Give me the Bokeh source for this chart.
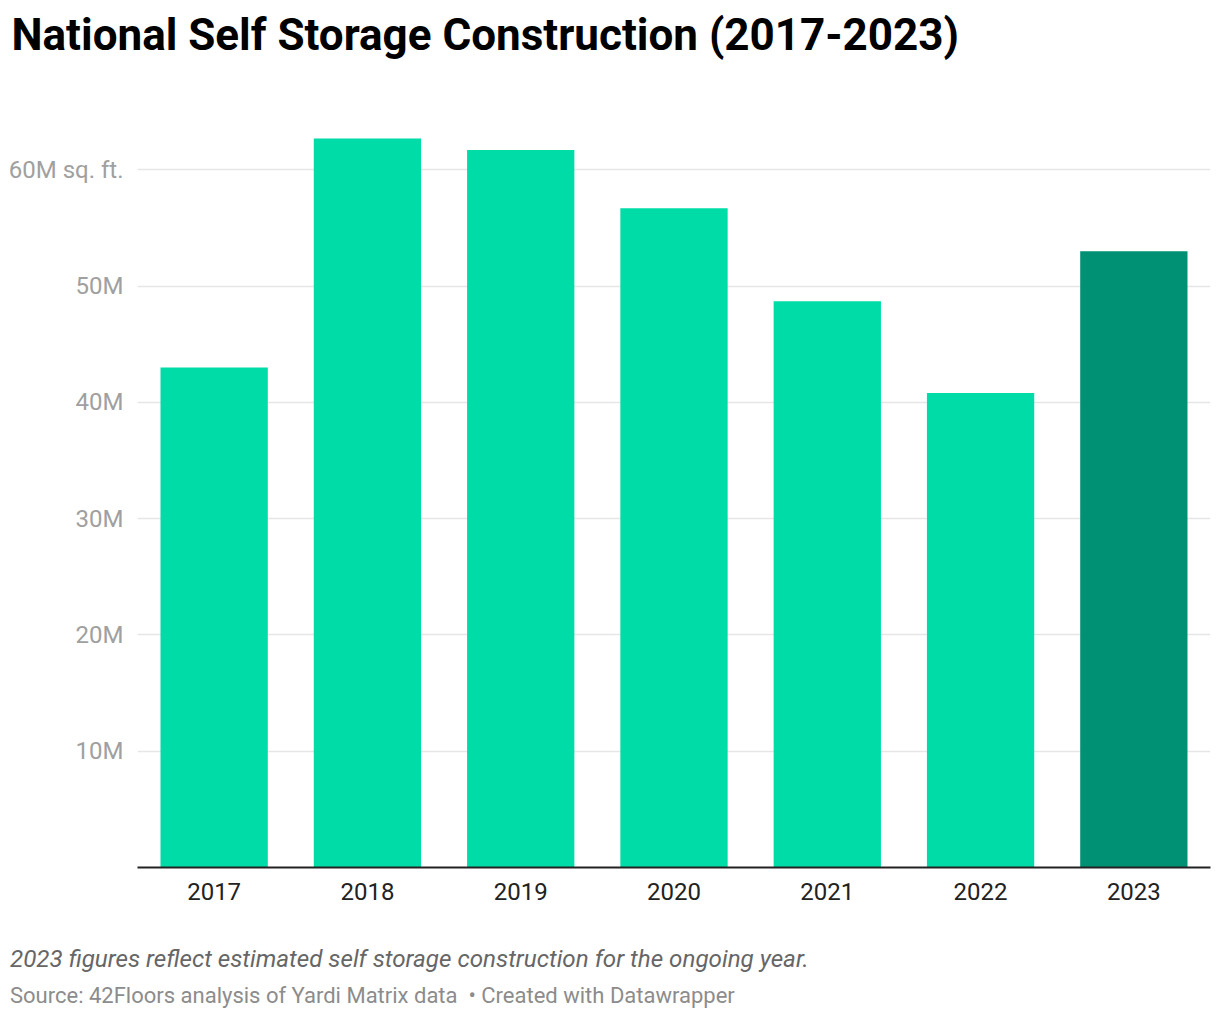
from bokeh.plotting import figure
from bokeh.models import ColumnDataSource, FixedTicker, Title, Range1d, Div
from bokeh.layouts import column
from bokeh.embed import file_html
from bokeh.resources import INLINE

years = ["2017", "2018", "2019", "2020", "2021", "2022", "2023"]
values = [43.0, 62.7, 61.7, 56.7, 48.7, 40.8, 53.0]  # million sq. ft.
colors = ["#00dca7", "#00dca7", "#00dca7", "#00dca7", "#00dca7", "#00dca7", "#009175"]
y_ticks = [10, 20, 30, 40, 50, 60]
y_tick_labels = ["10M", "20M", "30M", "40M", "50M", "60M sq. ft."]

title_text = "National Self Storage Construction (2017-2023)"
note_text = "2023 figures reflect estimated self storage construction for the ongoing year."
source_text = "Source: 42Floors analysis of Yardi Matrix data&nbsp; \u2022 Created with Datawrapper"

src = ColumnDataSource(dict(year=years, value=values, color=colors))

p = figure(x_range=years, y_range=Range1d(0, 68.8), width=1212, height=909,
           output_backend="svg", toolbar_location=None,
           min_border_left=137, min_border_right=2, min_border_top=0, min_border_bottom=42)
p.x_range.range_padding = 0
p.vbar(x="year", top="value", width=0.7, color="color", source=src, line_color=None)

p.outline_line_color = None
p.background_fill_color = "white"
p.border_fill_color = "white"

p.xgrid.grid_line_color = None
p.ygrid.grid_line_color = "#e6e6e6"
p.ygrid.grid_line_width = 1.5

p.yaxis.ticker = FixedTicker(ticks=y_ticks)
p.yaxis.major_label_overrides = {t: l for t, l in zip(y_ticks, y_tick_labels)}
p.yaxis.axis_line_color = None
p.yaxis.major_tick_line_color = None
p.yaxis.minor_tick_line_color = None
p.yaxis.major_label_text_color = "#a0a0a0"
p.yaxis.major_label_text_font = "Roboto"
p.yaxis.major_label_text_font_size = "24px"
p.yaxis.major_label_standoff = 8

p.xaxis.axis_line_color = "#222222"
p.xaxis.axis_line_width = 2
p.xaxis.major_tick_line_color = None
p.xaxis.minor_tick_line_color = None
p.xaxis.major_label_text_color = "#222222"
p.xaxis.major_label_text_font = "Roboto"
p.xaxis.major_label_text_font_size = "24px"
p.xaxis.major_label_standoff = 9

t = Title(text=title_text, text_font="Roboto", text_font_style="bold",
          text_font_size="44px", text_color="#000000", align="left", offset=-126,
          standoff=13)
p.add_layout(t, "above")

footer_html = (
    '<div style="margin:0; padding:36px 0 0 10px;">'
    '<div style="font-family:Roboto; font-style:italic; font-size:24.2px; line-height:29px; '
    'color:#666666; white-space:nowrap;">' + note_text + '</div>'
    '<div style="font-family:Roboto; font-size:22px; line-height:26px; color:#8c8c8c; '
    'margin-top:9px; white-space:nowrap;">' + source_text + '</div>'
    '</div>'
)
footer = Div(text=footer_html, width=1212, margin=(0, 0, 0, 0))

layout = column(p, footer, spacing=0)
open("out.html", "w").write(file_html(layout, INLINE))
